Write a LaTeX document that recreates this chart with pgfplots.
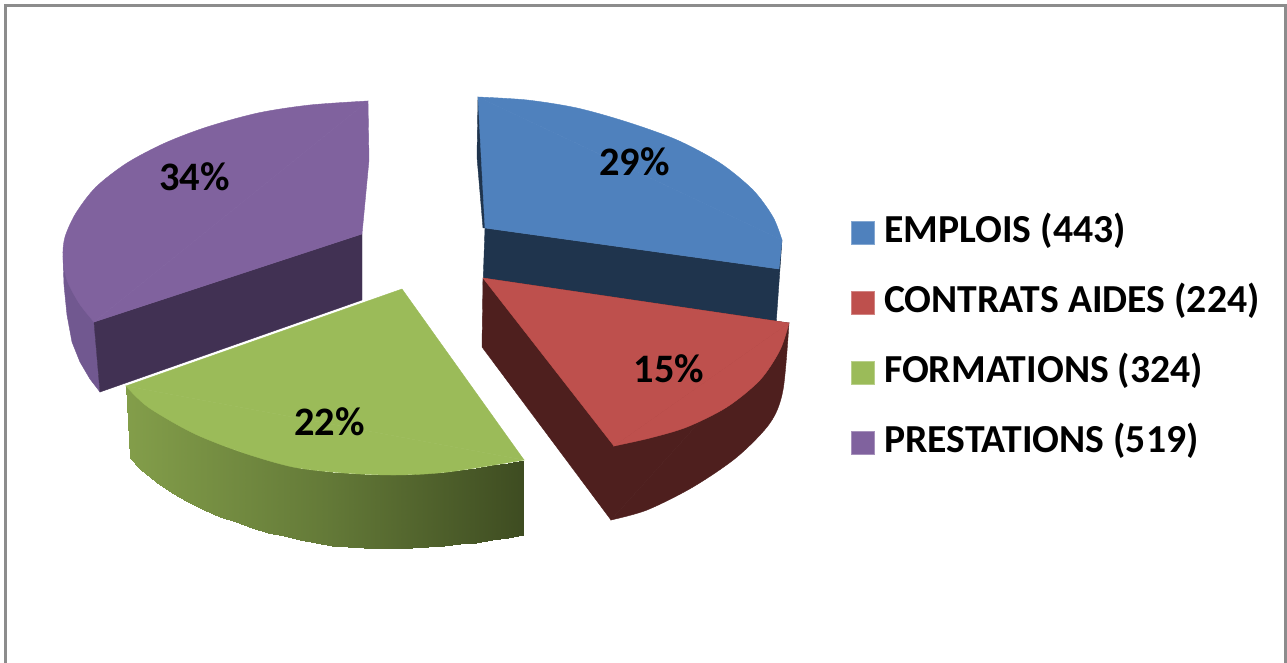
\documentclass[border=0pt]{standalone}
\usepackage{fontspec}
\setmainfont{Carlito}
\usepackage{pgfplots}
\pgfplotsset{compat=1.18}

\definecolor{blue1}{RGB}{79,129,189}
\definecolor{blue2}{RGB}{31,52,77}
\definecolor{red1}{RGB}{190,80,77}
\definecolor{red2}{RGB}{78,31,30}
\definecolor{green1}{RGB}{155,187,89}
\definecolor{purple1}{RGB}{128,98,158}
\definecolor{purple2}{RGB}{65,49,83}
\definecolor{purple3}{RGB}{113,88,144}
\definecolor{frame}{RGB}{140,140,140}

% wall of the green slice, top edge then bottom edge (picture pixels)
\pgfplotstableread{
x y
126 386
140 400
156 412
172 421
188 430
204 437
220 444
236 450
252 455
268 460
284 464
300 468
316 470
332 472
348 473
364 474
380 475
396 475
412 474
428 473
444 472
460 470
476 468
492 465
508 463
524 460
130 458
140 469
156 482
172 493
188 502
204 510
220 517
236 522
252 528
268 533
284 536
300 540
316 543
332 546
348 547
364 548
380 549
396 549
412 548
428 547
444 546
460 544
476 543
492 540
508 538
523 535
}\greenwall

\begin{document}
\begin{tikzpicture}
\begin{axis}[
    scale only axis,
    width=643.5pt,
    height=331.5pt,
    xmin=0, xmax=1287,
    ymin=0, ymax=663,
    y dir=reverse,
    ticks=none,
    axis line style={draw=none},
    legend style={
        at={(axis cs:845,212)}, anchor=north west,
        draw=none, fill=none,
        font=\fontsize{19.85}{21}\selectfont\bfseries,
        nodes={inner sep=0pt, text height=13pt, text depth=4pt},
        row sep=18pt,
    },
    legend cell align=left,
    legend image code/.code={
        \draw[#1] (0pt,-5.5pt) rectangle (11.2pt,6pt);
        \path (16pt,0pt);
    },
    every axis plot/.append style={forget plot},
]
% frame
\addplot[frame, line width=1.5pt] coordinates {(5.5,663) (5.5,5.5) (1285.5,5.5) (1285.5,663)};

% blue slice
\addplot[fill=blue2, draw=blue2, line width=0.2pt] coordinates {(478,97) (477,157) (483,228) (490,228)} --cycle;
\addplot[fill=blue2, draw=blue2, line width=0.2pt] coordinates {(485,228) (779,269) (782,240) (776,325) (483,285)} --cycle;
\addplot[fill=blue1, draw=blue1, line width=0.2pt] coordinates {(478,97) (485,228) (779,269) (782,240)} --cycle;
\addplot[fill=blue1, draw=blue1, line width=0.2pt, smooth] coordinates {(478,97) (527,100) (577,108) (627,122) (677,140) (720,163) (753,190) (773,217) (782,240)} --cycle;

% red slice
\addplot[fill=red2, draw=red2, line width=0.2pt] coordinates {(483,278) (482,347) (611,520) (789,323)} --cycle;
\addplot[fill=red2, draw=red2, line width=0.2pt, smooth] coordinates {(611,520) (647,510) (693,487) (737,457) (770,423) (783,390) (789,323)} --cycle;
\addplot[fill=red1, draw=red1, line width=0.2pt] coordinates {(483,278) (789,323) (614,446)} --cycle;
\addplot[fill=red1, draw=red1, line width=0.2pt, smooth] coordinates {(789,323) (780,350) (760,380) (727,407) (687,427) (650,438) (614,446)} --cycle;

% purple slice
\addplot[fill=purple3, draw=purple3, line width=0.2pt] coordinates {(63,257) (64,285) (67,315) (72,342) (80,362) (90,379) (100,392) (94,321)} --cycle;
\addplot[fill=purple2, draw=purple2, line width=0.2pt] coordinates {(94,322) (362,234) (362,300) (100,392)} --cycle;
\addplot[fill=purple1, draw=purple1, line width=0.2pt] coordinates {(368,101) (94,322) (362,234) (369,160)} --cycle;
\addplot[fill=purple1, draw=purple1, line width=0.2pt, smooth] coordinates {(368,101) (310,105) (258,113) (207,127) (165,143) (127,163) (96,187) (76,213) (65,237) (63,257) (67,280) (79,303) (94,322)} --cycle;

% green slice
\addplot[surf, shader=interp, mesh/rows=2, mesh/cols=26, point meta=x,
    colormap={greenwall}{rgb255=(131,158,74) rgb255=(100,122,56) rgb255=(62,76,33)}]
    table[x=x, y=y] {\greenwall};
\addplot[fill=green1, draw=green1, line width=0.2pt] coordinates {(402,289) (126,386) (524,460)} --cycle;
\addplot[fill=green1, draw=green1, line width=0.2pt, smooth] coordinates {(126,386) (148,407) (193,433) (241,452) (293,467) (344,473) (396,475) (448,472) (524,460)} --cycle;

% percentages
\node[font=\fontsize{20.2}{21}\selectfont\bfseries] at (axis cs:634.5,162) {29\%};
\node[font=\fontsize{20.2}{21}\selectfont\bfseries] at (axis cs:669,369) {15\%};
\node[font=\fontsize{20.2}{21}\selectfont\bfseries] at (axis cs:329.5,422) {22\%};
\node[font=\fontsize{20.2}{21}\selectfont\bfseries] at (axis cs:194.5,177) {34\%};

% legend
\addlegendimage{fill=blue1, draw=blue1!70!white, line width=0.4pt}
\addlegendentry{EMPLOIS (443)}
\addlegendimage{fill=red1, draw=red1!70!white, line width=0.4pt}
\addlegendentry{CONTRATS AIDES (224)}
\addlegendimage{fill=green1, draw=green1!70!white, line width=0.4pt}
\addlegendentry{FORMATIONS (324)}
\addlegendimage{fill=purple1, draw=purple1!70!white, line width=0.4pt}
\addlegendentry{PRESTATIONS (519)}
\end{axis}
\end{tikzpicture}
\end{document}
